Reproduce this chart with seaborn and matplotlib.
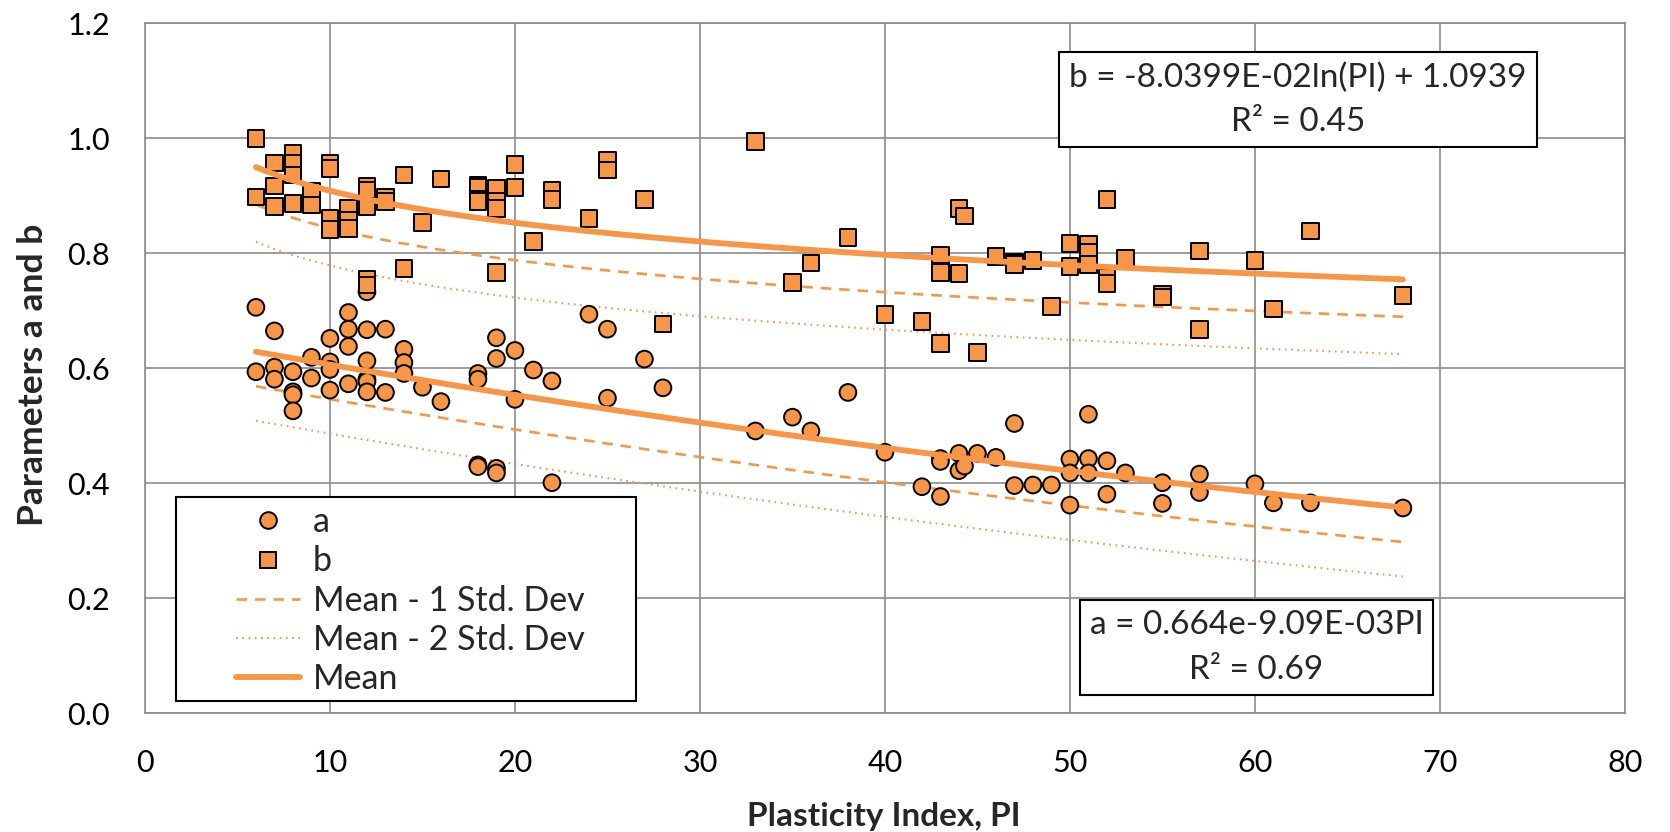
import numpy as np
import pandas as pd
import matplotlib
matplotlib.use("Agg")
import matplotlib.pyplot as plt
import seaborn as sns
from matplotlib.lines import Line2D
from matplotlib.patches import Rectangle

# ---- data ----
a_pi = [6, 6, 7, 7, 7, 8, 8, 8, 8, 9, 9, 10, 10, 10, 10, 11, 11, 11, 11,
        12, 12, 12, 12, 12, 12, 13, 13, 14, 14, 14, 15, 16, 18, 18, 18, 18,
        19, 19, 19, 19, 20, 20, 21, 22, 22, 24, 25, 25, 27, 28, 33, 35, 36,
        38, 40, 42, 43, 43, 43, 44, 44, 44.3, 45, 46, 47, 47, 48, 49, 50, 50,
        50, 51, 51, 51, 52, 52, 53, 55, 55, 57, 57, 60, 61, 63, 68]
a_val = [0.706, 0.594, 0.665, 0.602, 0.581, 0.594, 0.559, 0.554, 0.526, 0.619,
         0.583, 0.652, 0.611, 0.598, 0.562, 0.697, 0.668, 0.638, 0.573, 0.733,
         0.667, 0.613, 0.581, 0.577, 0.559, 0.668, 0.558, 0.633, 0.610, 0.591,
         0.567, 0.542, 0.591, 0.581, 0.432, 0.429, 0.653, 0.617, 0.426, 0.418,
         0.631, 0.546, 0.597, 0.578, 0.401, 0.694, 0.668, 0.548, 0.616, 0.566,
         0.491, 0.515, 0.491, 0.558, 0.454, 0.394, 0.443, 0.438, 0.377, 0.452,
         0.422, 0.430, 0.452, 0.445, 0.504, 0.396, 0.397, 0.397, 0.442, 0.418,
         0.362, 0.520, 0.443, 0.418, 0.439, 0.381, 0.418, 0.401, 0.365, 0.416,
         0.384, 0.399, 0.366, 0.366, 0.357]

b_pi = [6, 6, 7, 7, 7, 8, 8, 8, 8, 9, 9, 10, 10, 10, 10, 11, 11, 11,
        12, 12, 12, 12, 12, 13, 13, 14, 14, 15, 16, 18, 18, 18, 18,
        19, 19, 19, 19, 20, 20, 21, 22, 22, 24, 25, 25, 27, 28, 33, 35, 36,
        38, 40, 42, 43, 43, 43, 44, 44, 44.3, 45, 46, 47, 47, 48, 49, 50, 50,
        51, 51, 51, 52, 52, 52, 53, 55, 55, 57, 57, 60, 61, 63, 68]
b_val = [1.000, 0.898, 0.957, 0.917, 0.882, 0.974, 0.957, 0.936, 0.887, 0.907,
         0.884, 0.957, 0.948, 0.861, 0.841, 0.878, 0.858, 0.843, 0.917, 0.910,
         0.881, 0.754, 0.745, 0.898, 0.890, 0.936, 0.774, 0.853, 0.929, 0.919,
         0.915, 0.893, 0.890, 0.913, 0.890, 0.878, 0.766, 0.955, 0.915, 0.820,
         0.910, 0.893, 0.861, 0.962, 0.945, 0.894, 0.677, 0.994, 0.749, 0.783,
         0.827, 0.694, 0.681, 0.797, 0.767, 0.643, 0.878, 0.765, 0.865, 0.628,
         0.794, 0.785, 0.780, 0.788, 0.708, 0.817, 0.777, 0.815, 0.801, 0.781,
         0.893, 0.759, 0.748, 0.791, 0.728, 0.724, 0.804, 0.667, 0.787, 0.703,
         0.839, 0.727]

# trend equations shown on the chart
a_coef = (0.664, -9.09e-3)      # a = 0.664 e^(-0.00909 PI)
b_coef = (-8.0399e-2, 1.0939)   # b = -0.080399 ln(PI) + 1.0939
a_sd = 0.060
b_sd = 0.065
fit_range = (6, 68)

x_ticks = [0, 10, 20, 30, 40, 50, 60, 70, 80]
y_ticks = [0.0, 0.2, 0.4, 0.6, 0.8, 1.0, 1.2]
legend_labels = ["a", "b", "Mean - 1 Std. Dev", "Mean - 2 Std. Dev", "Mean"]
b_eq_text = "b = -8.0399E-02ln(PI) + 1.0939\nR² = 0.45"
a_eq_text = "a = 0.664e-9.09E-03PI\nR² = 0.69"

ORANGE = "#F79646"
GRID = "#8C8C8C"

sns.set_theme(style="white")
plt.rcParams["font.family"] = ["Lato", "DejaVu Sans"]

fig = plt.figure(figsize=(16.7, 8.32), dpi=100)
ax = fig.add_axes([0.0868, 0.1427, 0.8862, 0.8293])

df = pd.concat([
    pd.DataFrame({"PI": a_pi, "val": a_val, "param": "a"}),
    pd.DataFrame({"PI": b_pi, "val": b_val, "param": "b"}),
])

# trend lines
xf = np.linspace(fit_range[0], fit_range[1], 300)
a_fit = a_coef[0] * np.exp(a_coef[1] * xf)
b_fit = b_coef[0] * np.log(xf) + b_coef[1]
DASH = (0, (4, 3))
DOT = (0, (0.8, 2.2))
for fit, sd in ((a_fit, a_sd), (b_fit, b_sd)):
    sns.lineplot(x=xf, y=fit - sd, ax=ax, color=ORANGE, lw=1.9,
                 linestyle=DASH, legend=False, zorder=2)
    sns.lineplot(x=xf, y=fit - 2 * sd, ax=ax, color=ORANGE, lw=1.5,
                 linestyle=DOT, legend=False, zorder=2)
    sns.lineplot(x=xf, y=fit, ax=ax, color=ORANGE, lw=4.2,
                 solid_capstyle="round", legend=False, zorder=4)

sns.scatterplot(data=df, x="PI", y="val", style="param",
                markers={"a": "o", "b": "s"}, color=ORANGE,
                edgecolor="black", linewidth=1.4, s=145, ax=ax,
                legend=False, zorder=3)

ax.set_xlim(0, 80)
ax.set_ylim(0, 1.2)
ax.set_xticks(x_ticks)
ax.set_yticks(y_ticks)
ax.set_yticklabels([f"{v:.1f}" for v in y_ticks])
ax.tick_params(length=0, labelsize=22, colors="black")
ax.tick_params(axis="x", pad=26)
ax.tick_params(axis="y", pad=25)
ax.grid(True, color=GRID, lw=1.2)
ax.set_axisbelow(True)
for sp in ax.spines.values():
    sp.set_color(GRID)
    sp.set_linewidth(1.2)

ax.set_xlabel("")
ax.set_ylabel("")
fig.text(0.529, 0.007, "Plasticity Index, PI", fontsize=24, fontweight="bold",
         ha="center", va="baseline")
fig.text(0.0198, 0.55, "Parameters a and b", fontsize=25.5, fontweight="bold",
         ha="center", va="center", rotation=90)

# legend frame (drawn separately so the handles can sit indented like Excel)
ax.add_patch(Rectangle((0.021, 0.018), 0.311, 0.295, transform=ax.transAxes,
                       fc="white", ec="black", lw=1.5, zorder=9))
handles = [
    Line2D([], [], marker="o", ls="none", mfc=ORANGE, mec="black", mew=1.4, ms=12),
    Line2D([], [], marker="s", ls="none", mfc=ORANGE, mec="black", mew=1.4, ms=12),
    Line2D([], [], color=ORANGE, lw=1.9, ls=DASH),
    Line2D([], [], color=ORANGE, lw=1.5, ls=DOT),
    Line2D([], [], color=ORANGE, lw=4.2),
]
leg = ax.legend(handles, legend_labels, loc="upper left",
                bbox_to_anchor=(0.0615, 0.300), fontsize=24.5, frameon=False,
                handlelength=1.88, labelspacing=0.21, borderpad=0,
                handletextpad=0.38, borderaxespad=0)
leg.set_zorder(10)

box = dict(boxstyle="square,pad=0.3", fc="white", ec="black", lw=1.5)
ax.text(0.779, 0.889, b_eq_text, transform=ax.transAxes, ha="center",
        va="center", fontsize=24, linespacing=1.6, bbox=box, zorder=10)
ax.text(0.751, 0.0954, a_eq_text, transform=ax.transAxes, ha="center",
        va="center", fontsize=24, linespacing=1.6, bbox=box, zorder=10)

fig.savefig("out.png", dpi=100)
